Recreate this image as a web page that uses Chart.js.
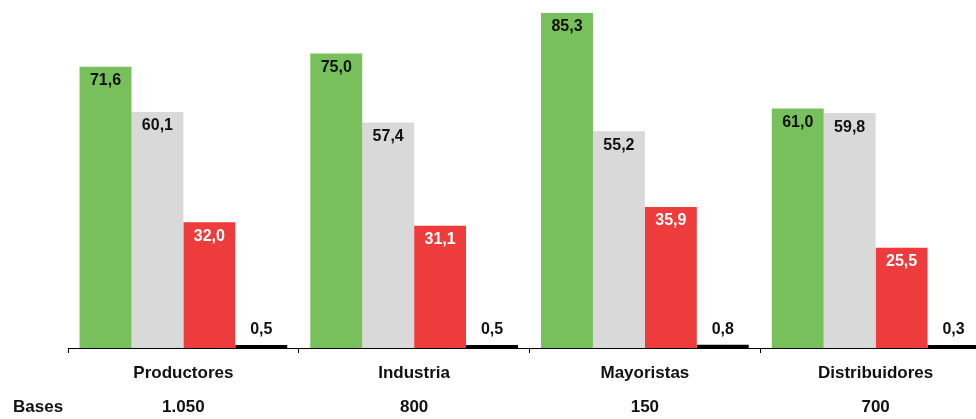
<!DOCTYPE html>
<html>
<head>
<meta charset="utf-8">
<script src="https://cdn.jsdelivr.net/npm/chart.js@4/dist/chart.umd.min.js"></script>
<style>
  html, body { margin: 0; padding: 0; background: #fff; overflow: hidden; }
  #wrap { width: 991px; height: 419px; }
</style>
</head>
<body>
<div id="wrap"><canvas id="chart"></canvas></div>
<script>
  // ------------- Datos -------------
  const categories = ['Productores', 'Industria', 'Mayoristas', 'Distribuidores'];
  const bases      = ['1.050', '800', '150', '700'];
  const serieVerde = [71.6, 75.0, 85.3, 61.0];
  const serieGris  = [60.1, 57.4, 55.2, 59.8];
  const serieRoja  = [32.0, 31.1, 35.9, 25.5];
  const serieNegra = [0.5, 0.5, 0.8, 0.3];

  const FONT = '"Liberation Sans", Arial, sans-serif';
  const fmt = v => v.toFixed(1).replace('.', ',');

  // etiquetas de valor sobre/dentro de cada barra
  const valueLabels = {
    id: 'valueLabels',
    afterDatasetsDraw(chart) {
      const { ctx } = chart;
      ctx.save();
      ctx.font = `bold 16px ${FONT}`;
      ctx.textAlign = 'center';
      ctx.textBaseline = 'middle';
      chart.data.datasets.forEach((ds, di) => {
        chart.getDatasetMeta(di).data.forEach((bar, i) => {
          const v = ds.data[i];
          if (v < 5) {
            ctx.fillStyle = '#111';
            ctx.fillText(fmt(v), bar.x, bar.y - 15);
          } else {
            ctx.fillStyle = ds.labelColor;
            ctx.fillText(fmt(v), bar.x, bar.y + 14);
          }
        });
      });
      ctx.restore();
    }
  };

  // nombres de categoría y fila de bases
  const bottomLabels = {
    id: 'bottomLabels',
    afterDraw(chart) {
      const { ctx } = chart;
      const x = chart.scales.x;
      ctx.save();
      ctx.font = `bold 17px ${FONT}`;
      ctx.fillStyle = '#111';
      ctx.textBaseline = 'middle';
      ctx.textAlign = 'center';
      categories.forEach((c, i) => {
        const px = x.getPixelForValue(i);
        ctx.fillText(c, px, 373);
        ctx.fillText(bases[i], px, 407);
      });
      ctx.textAlign = 'left';
      ctx.fillText('Bases', 13, 407);
      ctx.restore();
    }
  };

  new Chart(document.getElementById('chart'), {
    type: 'bar',
    data: {
      labels: categories,
      datasets: [
        { data: serieVerde, backgroundColor: '#78C05C', labelColor: '#111' },
        { data: serieGris,  backgroundColor: '#D9D9D9', labelColor: '#111' },
        { data: serieRoja,  backgroundColor: '#EE3B3B', labelColor: '#fff' },
        { data: serieNegra, backgroundColor: '#000000', labelColor: '#111', minBarLength: 3 }
      ]
    },
    options: {
      animation: false,
      responsive: true,
      maintainAspectRatio: false,
      layout: { padding: { left: 68, right: 0, top: 0, bottom: 0 } },
      datasets: { bar: { categoryPercentage: 0.9, barPercentage: 1.0 } },
      plugins: { legend: { display: false }, tooltip: { enabled: false } },
      scales: {
        x: {
          ticks: { display: false },
          grid: { display: true, drawOnChartArea: false, drawTicks: true, tickLength: 5, color: '#000', lineWidth: 1 },
          border: { display: true, color: '#000', width: 1 },
          afterFit: s => { s.height = 71; }
        },
        y: { display: false, min: 0, max: 88.6 }
      }
    },
    plugins: [valueLabels, bottomLabels]
  });
</script>
</body>
</html>
